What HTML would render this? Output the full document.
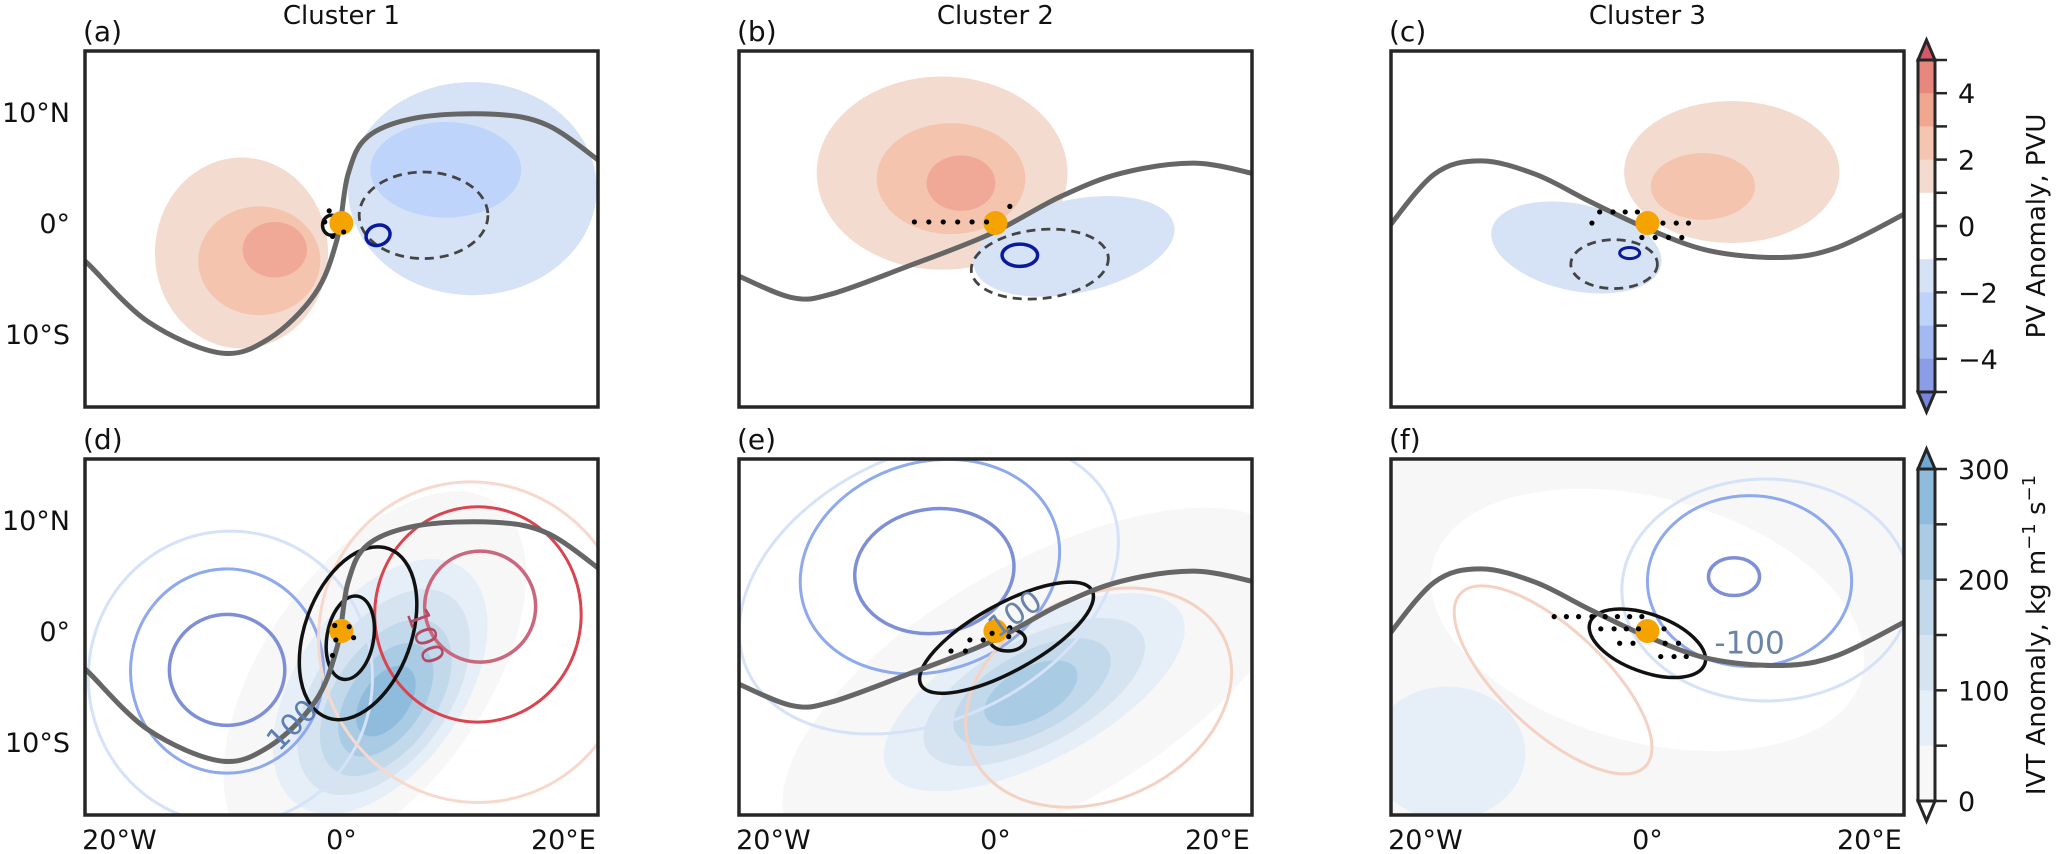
<!DOCTYPE html>
<html><head><meta charset="utf-8"><style>
html,body{margin:0;padding:0;background:#fff;width:2067px;height:854px;overflow:hidden;}
svg{display:block;font-family:"DejaVu Sans","Liberation Sans",sans-serif;}
</style></head><body>
<svg id="fig" width="2067" height="854" viewBox="0 0 2067 854" xmlns="http://www.w3.org/2000/svg"></svg>
<script>
// ---- data ----
const panelIds = ['a','b','c','d','e','f'];
const columnTitles = ['Cluster 1','Cluster 2','Cluster 3'];
const lonTicks = [-20,0,20];
const lonTickLabels = ['20°W','0°','20°E'];
const latTicks = [10,0,-10];
const latTickLabels = ['10°N','0°','10°S'];
const grayLine1 = [[-23.5,-3.2],[-22.8,-3.7],[-17.4,-8.9],[-10.9,-11.7],[-6.5,-10.4],[-2.4,-6.4],[-0.4,-1.5],[0.6,4.4],[2.4,7.8],[6.9,9.5],[13.8,9.8],[18.6,8.8],[23.5,5.4]];
const grayLine2 = [[-23.5,-4.6],[-18.4,-6.7],[-14.8,-6.4],[-7.9,-3.9],[-0.5,-1],[5.9,2.4],[11.4,4.5],[17.9,5.4],[23.5,4.4]];
const grayLine3 = [[-23.5,-0.6],[-19.2,4.4],[-15.0,5.6],[-10.1,4.4],[-5.1,1.9],[0,-0.5],[5.6,-2.5],[12.1,-3.1],[17.1,-2.2],[23.5,1.0]];
const pvFillA = [[-9,-2.7,7.8,8.6,0,'#f3dccf'],[-7.4,-3.4,5.5,4.9,0,'#f5c4ae'],[-6,-2.4,2.9,2.5,0,'#efa996'],[11.8,3.1,11.2,9.6,0,'#d6e2f5'],[9.4,4.8,6.8,4.3,0,'#bfd4fb']];
const pvFillB = [[-4.8,4.5,11.3,8.7,0,'#f3dccf'],[-4,4,6.7,5,0,'#f5c4ae'],[-3.1,3.6,3.1,2.5,0,'#efa996'],[7.1,-2.1,9.2,4.2,-12,'#d6e2f5']];
const pvFillC = [[7.6,4.6,9.7,6.4,0,'#f3dccf'],[5,3.3,4.7,3,0,'#f5c4ae'],[-6.4,-2.2,7.8,3.9,12,'#d6e2f5']];
const ivtFillD = [[3,-4,19,10,-55,'#f7f7f7'],[3.5,-5,13,7.5,-55,'#e6eef7'],[3.8,-5.5,10.5,6,-55,'#d5e4f0'],[4,-6,8,4.6,-55,'#c1d9ea'],[4,-6.2,5.8,3.3,-55,'#a9cbe4'],[4,-6.3,3.6,2.1,-55,'#8fbcdc']];
const ivtFillE = [[4,-5,26,11,-30,'#f7f7f7'],[3.5,-5.5,15,6.2,-28,'#e6eef7'],[3.5,-5.5,11,4.8,-28,'#d5e4f0'],[3.3,-5.5,7.8,3.6,-28,'#c1d9ea'],[3.2,-5.6,4.6,2.3,-28,'#a9cbe4']];
const ivtFillF = [[0,1,20,11,15,'#ffffff'],[-18,-11,7,6,0,'#e6eef7']];
const contD = [[-10.3,-3.5,5.2,5,0,'#7e8fd6',3.5,''],[-10.3,-3.6,8.7,9.2,0,'#8ea9ec',3,''],[-10,-4.2,12.8,13.2,0,'#d5e2f8',3,''],[12.5,2.2,5,5,0,'#c9687c',3.5,''],[12.3,1.5,9.3,9.7,0,'#d9444e',3,''],[12,-1,14,14.5,-20,'#f6d9cc',3,''],[1.5,-0.2,4.8,8.1,20,'#111',3.5,''],[0.8,-0.6,2.1,3.8,10,'#111',3.5,'']];
const contE = [[-5.5,5.4,7.2,5.6,-8,'#7e8fd6',3.5,''],[-5.9,5.8,11.9,9.4,-18,'#8ea9ec',3,''],[-6,4,18,12,-25,'#d5e2f8',3,''],[9.3,-6,12.5,9.2,-25,'#f4d2c3',3,''],[1,-0.6,8.8,3,-29,'#111',3.5,''],[1.1,-0.8,1.6,1,0,'#111',3.5,'']];
const contF = [[7.8,4.9,2.3,1.7,0,'#7e8fd6',3.5,''],[9.2,4.5,9.2,7.7,0,'#8ea9ec',3,''],[10.7,3.7,13,10,0,'#d5e2f8',3,''],[-8.5,-4.4,11.4,4.6,43,'#f4d2c3',3,''],[0,-1.1,5.5,2.6,20,'#111',3.5,'']];
const contA = [[7.4,0.7,5.8,3.9,0,'#444',2.8,'9 6'],[3.3,-1.1,1.1,0.9,-20,'#0a1a9a',3.5,''],[-0.9,-0.2,0.8,0.9,0,'#111',3.5,'']];
const contB = [[4,-3.7,6.2,3.1,-6,'#444',2.8,'9 6'],[2.2,-2.9,1.6,1,0,'#0a1a9a',3.5,'']];
const contC = [[-3,-3.7,3.9,2.2,0,'#444',2.8,'9 6'],[-1.6,-2.7,0.9,0.5,0,'#0a1a9a',3,'']];
const dotsA = [[-1.1,1.1],[-0.8,-1.2],[-1.5,0.1],[0.2,-0.8]];
const dotsB = [[-7.3,0.1],[-6,0.1],[-4.7,0.1],[-3.4,0.1],[-2.1,0.1],[-0.8,0.1],[1.3,1.5]];
const dotsC = [[-4.3,1],[-3.1,1],[-2,1],[-0.9,1],[-5,0],[1.4,0],[2.6,0],[3.7,0],[-0.5,-1.3],[0.7,-1.3],[1.9,-1.3],[3.1,-1.3]];
const dotsD = [[-0.6,0.5],[0.7,0.4],[-0.5,-0.8],[1.1,-0.6],[-0.8,-2.2]];
const dotsE = [[-4,-1.8],[-2.7,-1.8],[-2.3,-0.8],[-1.1,-0.8],[-0.3,-0.2],[1.2,-0.5],[1.3,0.3]];
const dotsF = [[-8.4,1.3],[-7.3,1.3],[-6.2,1.3],[-5,1.3],[-3.8,1.3],[-2.7,1.3],[-1.6,1.3],[-0.5,1.3],[-4.2,0.2],[-3,0.2],[-1.9,0.2],[-0.8,0.2],[1.5,0.2],[-2.5,-1.1],[-1.3,-1.1],[1.6,-1.1],[2.8,-1.1],[1.2,-2.3],[2.4,-2.3],[3.5,-2.3]];
const labD = [[7.5,-0.5,'100',70,'#b24a66',30],[-4.4,-8.5,'100',-45,'#5a7fb0',30]];
const labE = [[1.8,1.5,'100',-35,'#6884a8',30]];
const labF = [[9.2,-1.1,'-100',0,'#6884a8',31]];
const pvTicks = [4,2,0,-2,-4];
const pvBounds = [5,4,3,2,1,0,-1,-2,-3,-4,-5];
const pvColors = ['#e8877e','#f1a78f','#f5c5af','#f3dccf','#ffffff','#ffffff','#d6e2f5','#bdd3fa','#a1bbf2','#8a9de6'];
const ivtTicks = [0,100,200,300];
const ivtBounds = [0,50,100,150,200,250,300];
const ivtColors = ['#f7f7f7','#e6eef7','#d5e4f0','#c1d9ea','#a9cbe4','#8fbcdc'];

// ---- layout ----
const NS='http://www.w3.org/2000/svg';
const svg=document.getElementById('fig');
const panelX=[85,739,1391], panelY=[51,459], PW=513, PH=356, S=11.1;
function mk(tag,attrs,parent){const e=document.createElementNS(NS,tag);for(const k in attrs)e.setAttribute(k,attrs[k]);(parent||svg).appendChild(e);return e;}
function smooth(pts){let d='M'+pts[0][0]+','+pts[0][1];
  for(let i=0;i<pts.length-1;i++){const p0=pts[Math.max(0,i-1)],p1=pts[i],p2=pts[i+1],p3=pts[Math.min(pts.length-1,i+2)];
    const c1=[p1[0]+(p2[0]-p0[0])/6,p1[1]+(p2[1]-p0[1])/6],c2=[p2[0]-(p3[0]-p1[0])/6,p2[1]-(p3[1]-p1[1])/6];
    d+=` C${c1[0]},${c1[1]} ${c2[0]},${c2[1]} ${p2[0]},${p2[1]}`;}
  return d;}
const defs=mk('defs',{});
const fills=[pvFillA,pvFillB,pvFillC,ivtFillD,ivtFillE,ivtFillF];
const conts=[contA,contB,contC,contD,contE,contF];
const dots=[dotsA,dotsB,dotsC,dotsD,dotsE,dotsF];
const labs=[[],[],[],labD,labE,labF];
const grays=[grayLine1,grayLine2,grayLine3];
panelIds.forEach((id,i)=>{
  const col=i%3,row=Math.floor(i/3);
  const x0=panelX[col],y0=panelY[row];
  const X=lon=>x0+(lon+23.1)*S, Y=lat=>y0+(15.5-lat)*S;
  const cp=mk('clipPath',{id:'clip'+id},defs);mk('rect',{x:x0,y:y0,width:PW,height:PH},cp);
  const g=mk('g',{'clip-path':'url(#clip'+id+')'});
  
  
  if(id==='f'){const bg=mk('rect',{x:x0,y:y0,width:PW,height:PH,fill:'#f7f7f7'},g);
    
    }
  fills[i].forEach(f=>{const e=mk('ellipse',{cx:X(f[0]),cy:Y(f[1]),rx:f[2]*S,ry:f[3]*S,fill:f[5],transform:`rotate(${f[4]} ${X(f[0])} ${Y(f[1])})`},g);
    
    });
  conts[i].forEach(c=>{const e=mk('ellipse',{cx:X(c[0]),cy:Y(c[1]),rx:c[2]*S,ry:c[3]*S,fill:'none',stroke:c[5],'stroke-width':c[6],transform:`rotate(${c[4]} ${X(c[0])} ${Y(c[1])})`},g);
    if(c[7])e.setAttribute('stroke-dasharray',c[7]);
    
    });
  const gl=grays[col];
  const p=mk('path',{d:smooth(gl.map(q=>[X(q[0]),Y(q[1])])),fill:'none',stroke:'#666','stroke-width':5,'stroke-linejoin':'round'},g);
  
  
  const od=mk('circle',{cx:X(0),cy:Y(0),r:12,fill:'#f5a300'},g);
  
  
  dots[i].forEach(d=>{const e=mk('circle',{cx:X(d[0]),cy:Y(d[1]),r:2.6,fill:'#000'},g);
    
    });
  labs[i].forEach(l=>{const t=mk('text',{x:X(l[0]),y:Y(l[1]),fill:l[4],'font-size':l[5],'text-anchor':'middle','dominant-baseline':'central',transform:`rotate(${l[3]} ${X(l[0])} ${Y(l[1])})`},g);t.textContent=l[2];
    
    });
  const fr=mk('rect',{x:x0,y:y0,width:PW,height:PH,fill:'none',stroke:'#262626','stroke-width':3.5});
  
  
  const pl=mk('text',{x:x0-2,y:y0-10,'font-size':28,fill:'#111'});pl.textContent='('+id+')';
  
  
  if(row===0){const t=mk('text',{x:X(0),y:24,'font-size':26,'text-anchor':'middle',fill:'#111'});t.textContent=columnTitles[col];
    
    }
  if(col===0){latTicks.forEach((v,k)=>{const t=mk('text',{x:70,y:Y(v)+10,'font-size':27,'text-anchor':'end',fill:'#111'});t.textContent=latTickLabels[k];
    
    });}
  if(row===1){lonTicks.forEach((v,k)=>{const t=mk('text',{x:X(v),y:849,'font-size':27,'text-anchor':'middle',fill:'#111'});t.textContent=lonTickLabels[k];
    
    });}
});
// ---- colorbars ----
function colorbar(top,bottom,bounds,colors,ticks,triTop,triBot,name){
  const cx=1918,cw=17,n=colors.length,h=(bottom-top)/n;
  const vmax=Math.max(bounds[0],bounds[bounds.length-1]);
  const vmin=Math.min(bounds[0],bounds[bounds.length-1]);
  const Yv=v=>top+(vmax-v)/(vmax-vmin)*(bottom-top);
  const g=mk('g',{});
  
  
  const desc=bounds[0]>bounds[1];
  colors.forEach((c,k)=>{const hi=desc?bounds[k]:bounds[k+1];const r=mk('rect',{x:cx,y:Yv(hi),width:cw,height:h+0.5,fill:c},g);
    
    });
  mk('polygon',{points:`${cx},${top} ${cx+cw/2},${top-20} ${cx+cw},${top}`,fill:triTop,stroke:'#262626','stroke-width':3},g);
  mk('polygon',{points:`${cx},${bottom} ${cx+cw/2},${bottom+20} ${cx+cw},${bottom}`,fill:triBot,stroke:'#262626','stroke-width':3},g);
  mk('rect',{x:cx,y:top,width:cw,height:bottom-top,fill:'none',stroke:'#262626','stroke-width':3},g);
  bounds.forEach(v=>{mk('line',{x1:cx+cw,x2:cx+cw+12,y1:Yv(v),y2:Yv(v),stroke:'#262626','stroke-width':2.5},g);});
  ticks.forEach(v=>{const t=mk('text',{x:1958,y:Yv(v)+10,'font-size':27,fill:'#111'},g);t.textContent=(v<0?'\u2212'+(-v):String(v));
    
    });
  return g;
}
colorbar(60,392,pvBounds,pvColors,pvTicks,'#d6576a','#7785de','pv-colorbar');
colorbar(469,801,ivtBounds.slice().reverse(),ivtColors.slice().reverse(),ivtTicks,'#6fa9d4','#ffffff','ivt-colorbar');
const t1=mk('text',{x:0,y:0,'font-size':26,'text-anchor':'middle',fill:'#111',transform:'translate(2045 226) rotate(-90)'});t1.textContent='PV Anomaly, PVU';


const t2=mk('text',{x:0,y:0,'font-size':26,'text-anchor':'middle',fill:'#111',transform:'translate(2045 635) rotate(-90)'});
t2.innerHTML='IVT Anomaly, kg m<tspan baseline-shift="super" font-size="18">\u22121</tspan> s<tspan baseline-shift="super" font-size="18">\u22121</tspan>';


</script>
</body></html>
